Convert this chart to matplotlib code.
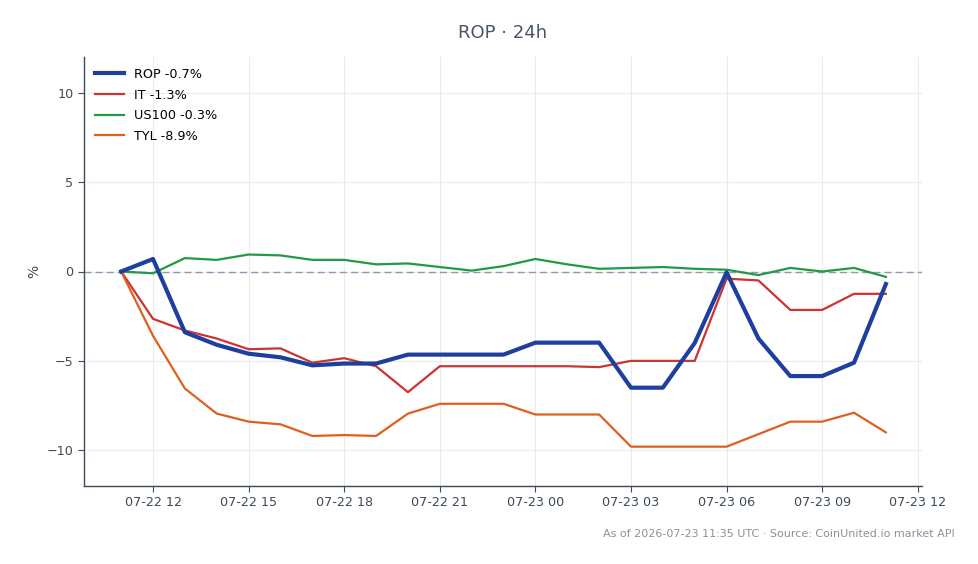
import matplotlib
matplotlib.use("Agg")
import matplotlib.pyplot as plt
import matplotlib.dates as mdates
import pandas as pd
import numpy as np

times = pd.date_range("2026-07-22 11:00", "2026-07-23 11:00", freq="h")

rop = [0, 0.7, -3.4, -4.1, -4.6, -4.8, -5.25, -5.15, -5.15, -4.65, -4.65, -4.65, -4.65,
       -3.98, -3.98, -3.98, -6.5, -6.5, -4.0, -0.05, -3.75, -5.85, -5.85, -5.1, -0.7]
it = [0, -2.65, -3.3, -3.75, -4.35, -4.3, -5.1, -4.85, -5.3, -6.75, -5.3, -5.3, -5.3,
      -5.3, -5.3, -5.35, -5.0, -5.0, -5.0, -0.4, -0.5, -2.15, -2.15, -1.25, -1.25]
us100 = [0, -0.1, 0.75, 0.65, 0.95, 0.9, 0.65, 0.65, 0.4, 0.45, 0.25, 0.05, 0.3,
         0.7, 0.4, 0.15, 0.2, 0.25, 0.15, 0.1, -0.2, 0.2, 0.0, 0.2, -0.3]
tyl = [0, -3.6, -6.55, -7.95, -8.4, -8.55, -9.2, -9.15, -9.2, -7.95, -7.4, -7.4, -7.4,
       -8.0, -8.0, -8.0, -9.8, -9.8, -9.8, -9.8, -9.1, -8.4, -8.4, -7.9, -9.0]

labels = ["ROP -0.7%", "IT -1.3%", "US100 -0.3%", "TYL -8.9%"]
colors = ["#1f3f9f", "#cc3333", "#229944", "#dd6020"]
widths = [3.0, 1.6, 1.6, 1.6]

fig = plt.figure(figsize=(9.79, 5.64), dpi=100)
ax = fig.add_axes([84/979, 1 - 486/564, (922-84)/979, (486-57)/564])

ax.axhline(0, color="#8a9bb0", lw=1, ls=(0, (5, 3)), zorder=1)
for series, lab, c, w in zip([rop, it, us100, tyl], labels, colors, widths):
    ax.plot(times, series, color=c, lw=w, label=lab, zorder=3 if lab.startswith("ROP") else 2)

ax.set_ylim(-12, 12)
ax.set_yticks([-10, -5, 0, 5, 10])
ax.set_yticklabels(["\u221210", "\u22125", "0", "5", "10"])
ax.set_xlim(times[0] - pd.Timedelta(minutes=70), times[-1] + pd.Timedelta(minutes=68))
ax.xaxis.set_major_locator(mdates.HourLocator(byhour=[0, 3, 6, 9, 12, 15, 18, 21]))
ax.xaxis.set_major_formatter(mdates.DateFormatter("%m-%d %H"))

ax.grid(True, color="#e8ebef", lw=0.8)
ax.set_axisbelow(True)
for s in ["top", "right"]:
    ax.spines[s].set_visible(False)
for s in ["left", "bottom"]:
    ax.spines[s].set_color("#3d4a5a")
    ax.spines[s].set_linewidth(1.0)
ax.tick_params(colors="#3d4a5a", labelsize=9.2, length=4)
ax.set_ylabel("%", color="#3d4a5a", fontsize=10)

ax.set_title("ROP \u00b7 24h", color="#4a5568", fontsize=13, pad=14)
leg = ax.legend(loc="upper left", frameon=False, fontsize=9.2, handlelength=2.27,
                borderaxespad=0.45, labelspacing=0.6)

fig.text(955/979, 1 - 534/564, "As of 2026-07-23 11:35 UTC \u00b7 Source: CoinUnited.io market API",
         ha="right", va="center", fontsize=8, color="#8a929c")

fig.savefig("out.png", dpi=100)
